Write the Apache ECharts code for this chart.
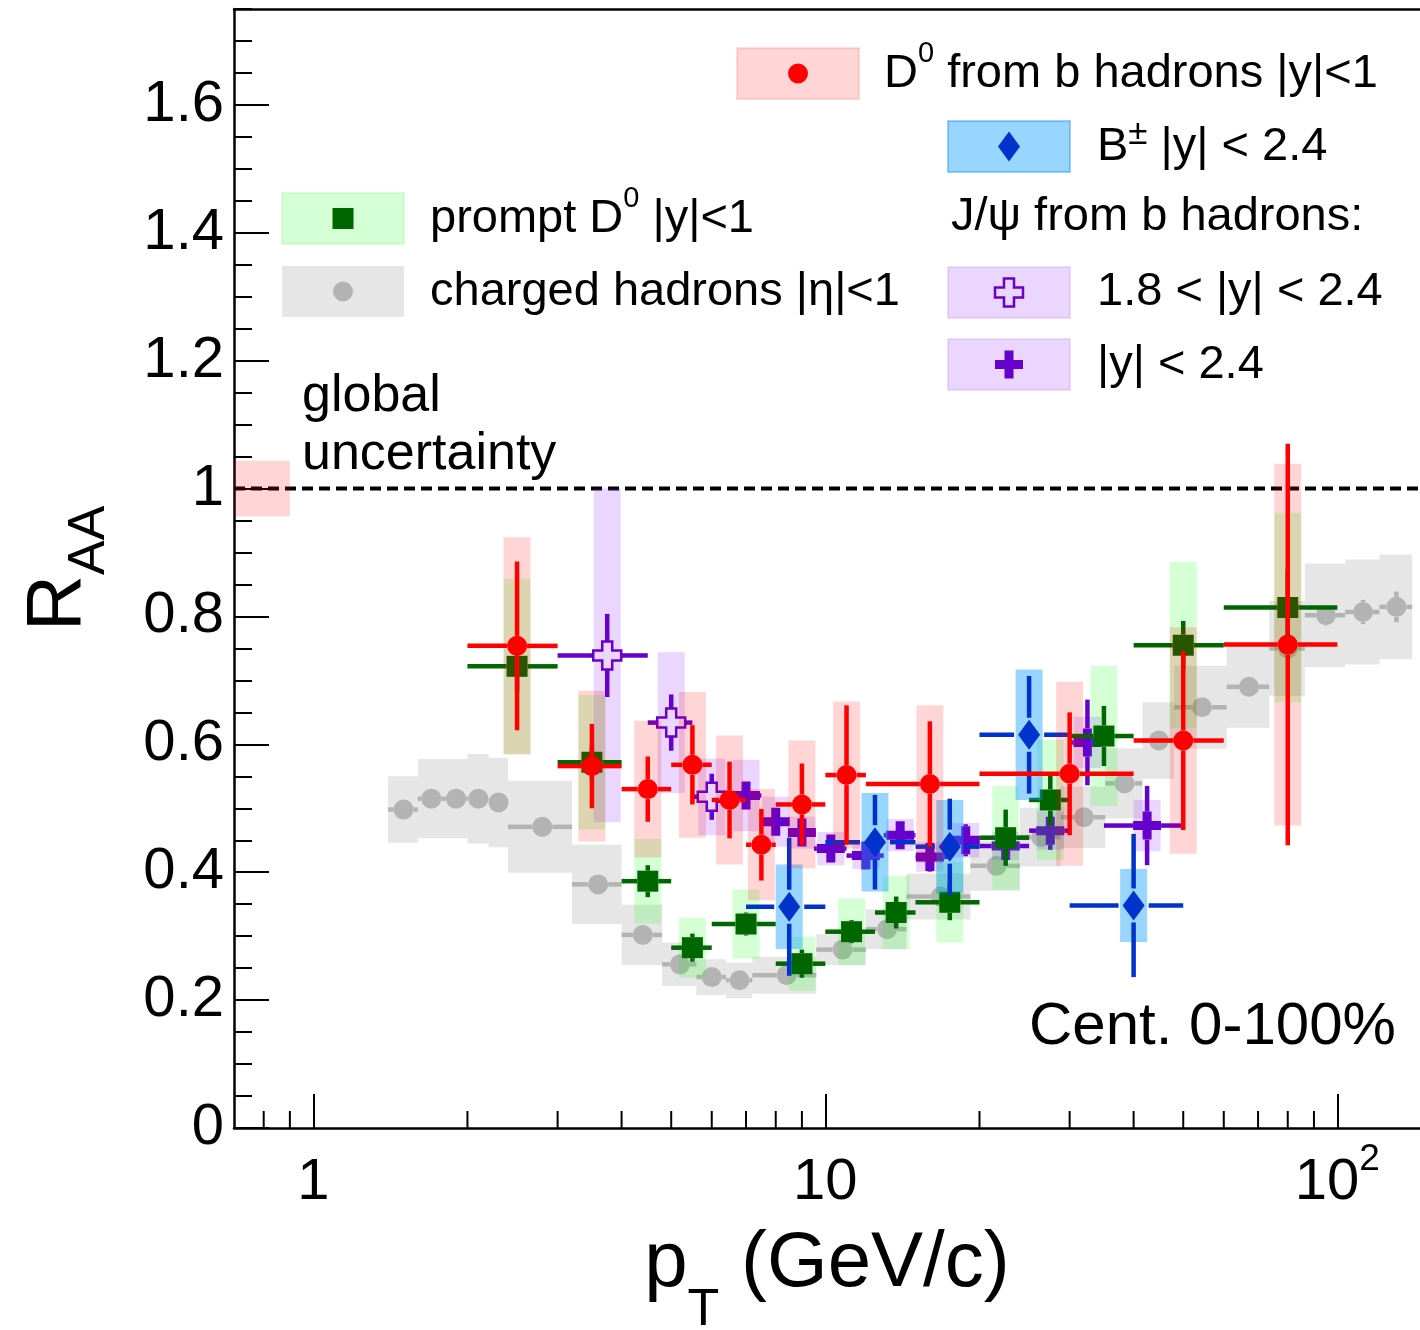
<!DOCTYPE html>
<html>
<head>
<meta charset="utf-8">
<script src="https://cdn.jsdelivr.net/npm/echarts@6/dist/echarts.min.js"></script>
<style>
html,body{margin:0;padding:0;background:#fff;}
#chart{width:1420px;height:1330px;}
</style>
</head>
<body>
<div id="chart"></div>
<script>
// ================= DATA =================
// D0 from b hadrons |y|<1
const redX    = [2.5, 3.5, 4.5, 5.5, 6.5, 7.5, 9, 11, 16, 30, 50, 80];
const redXLo  = [2, 3, 4, 5, 6, 7, 8, 10, 12, 20, 40, 60];
const redXHi  = [3, 4, 5, 6, 7, 8, 10, 12, 20, 40, 60, 100];
const redY    = [0.754, 0.566, 0.530, 0.568, 0.513, 0.443, 0.506, 0.552, 0.538, 0.554, 0.606, 0.756];
const redStat = [0.132, 0.066, 0.051, 0.062, 0.060, 0.056, 0.064, 0.109, 0.098, 0.096, 0.140, 0.314];
const redSys  = [0.170, 0.118, 0.107, 0.114, 0.101, 0.087, 0.100, 0.115, 0.123, 0.144, 0.177, 0.283];

// prompt D0 |y|<1
const greenX    = [2.5, 3.5, 4.5, 5.5, 7, 9, 11.25, 13.75, 17.5, 22.5, 27.5, 35, 50, 80];
const greenXLo  = [2, 3, 4, 5, 6, 8, 10, 12.5, 15, 20, 25, 30, 40, 60];
const greenXHi  = [3, 4, 5, 6, 8, 10, 12.5, 15, 20, 25, 30, 40, 60, 100];
const greenY    = [0.722, 0.572, 0.386, 0.282, 0.319, 0.257, 0.307, 0.337, 0.353, 0.454, 0.513, 0.613, 0.755, 0.814];
const greenStat = [0.040, 0.025, 0.025, 0.022, 0.018, 0.022, 0.018, 0.025, 0.028, 0.044, 0.040, 0.047, 0.038, 0.060];
const greenSys  = [0.137, 0.105, 0.066, 0.047, 0.054, 0.042, 0.052, 0.057, 0.063, 0.081, 0.094, 0.110, 0.130, 0.148];

// B+- |y|<2.4
const blueX    = [8.5, 12.5, 17.5, 25, 40];
const blueXLo  = [7, 10, 15, 20, 30];
const blueXHi  = [10, 15, 20, 30, 50];
const blueY    = [0.346, 0.447, 0.440, 0.615, 0.348];
const blueStat = [0.108, 0.074, 0.075, 0.092, 0.112];
const blueSys  = [0.066, 0.077, 0.073, 0.102, 0.057];

// J/psi from b hadrons, 1.8<|y|<2.4
const jpsiFwdX    = [3.75, 5.0, 6.0];
const jpsiFwdXLo  = [3, 4.5, 5.5];
const jpsiFwdXHi  = [4.5, 5.5, 6.5];
const jpsiFwdY    = [0.739, 0.634, 0.518];
const jpsiFwdStat = [0.065, 0.044, 0.036];
const jpsiFwdSys  = [0.261, 0.110, 0.060];

// J/psi from b hadrons, |y|<2.4
const jpsiX    = [7.0, 8.0, 9.0, 10.25, 12.0, 14.0, 16.0, 18.8, 22.5, 27.5, 32.5, 42.5];
const jpsiXLo  = [6.5, 7.5, 8.5, 9.5, 11, 13, 15, 17.5, 20, 25, 30, 35];
const jpsiXHi  = [7.5, 8.5, 9.5, 11, 13, 15, 17.5, 20, 25, 30, 35, 50];
const jpsiY    = [0.520, 0.479, 0.462, 0.437, 0.426, 0.458, 0.424, 0.450, 0.441, 0.465, 0.603, 0.473];
const jpsiStat = [0.021, 0.022, 0.022, 0.022, 0.021, 0.021, 0.023, 0.025, 0.020, 0.030, 0.067, 0.062];
const jpsiSys  = [0.056, 0.039, 0.025, 0.026, 0.021, 0.025, 0.023, 0.027, 0.022, 0.030, 0.040, 0.040];

// charged hadrons |eta|<1
const chX     = [1.5, 1.7, 1.9, 2.1, 2.3, 2.8, 3.6, 4.4, 5.2, 6.0, 6.8, 8.4, 10.8, 13.2, 16.8, 21.6, 26.4, 32.0, 38.4, 44.8, 54.4, 67.2, 80.0, 95.0, 112.2, 130.4];
const chEdges = [1.4, 1.6, 1.8, 2.0, 2.2, 2.4, 3.2, 4.0, 4.8, 5.6, 6.4, 7.2, 9.6, 12.0, 14.4, 19.2, 24.0, 28.8, 35.2, 41.6, 48.0, 60.8, 73.6, 86.4, 103.6, 120.8, 140.0];
const chY     = [0.498, 0.515, 0.515, 0.515, 0.509, 0.471, 0.381, 0.302, 0.256, 0.236, 0.231, 0.239, 0.279, 0.311, 0.362, 0.410, 0.455, 0.486, 0.539, 0.606, 0.658, 0.690, 0.750, 0.802, 0.807, 0.815];
const chStat  = [0.004, 0.004, 0.004, 0.004, 0.004, 0.004, 0.004, 0.004, 0.004, 0.004, 0.004, 0.004, 0.004, 0.005, 0.005, 0.006, 0.006, 0.007, 0.008, 0.008, 0.009, 0.010, 0.014, 0.016, 0.019, 0.024];
const chSys   = [0.052, 0.062, 0.062, 0.070, 0.070, 0.072, 0.062, 0.047, 0.034, 0.028, 0.028, 0.029, 0.024, 0.031, 0.036, 0.039, 0.046, 0.048, 0.055, 0.060, 0.065, 0.064, 0.074, 0.081, 0.082, 0.082];

// global uncertainty box
const globalXRange = [0.7, 0.9];
const globalY = 1.0;
const globalErr = 0.0437;

// reference line R_AA = 1
const refLineY = 1.0;

// axis ticks / labels
const xMinorTicks = [0.8, 0.9, 2, 3, 4, 5, 6, 7, 8, 9, 20, 30, 40, 50, 60, 70, 80, 90];
const yTickStep = 0.2, yMinorStep = 0.05;
const xMin = 0.7, xMax = 145, yMin = 0, yMax = 1.75;

// ================= STYLE =================
const FONT = '"Liberation Sans", Arial, Helvetica, sans-serif';
const C_RED = '#ff0000', C_GREEN = '#006600', C_BLUE = '#0033cc', C_PURPLE = '#6600cc', C_GRAY = '#b3b3b3';
const F_RED = 'rgba(255,0,0,0.165)', F_GREEN = 'rgba(0,255,0,0.165)', F_BLUE = 'rgba(0,153,255,0.4)',
      F_PURPLE = 'rgba(153,51,255,0.2)', F_GRAY = 'rgba(128,128,128,0.2)';
const BOX_HALF = 13.5;
const BAR_W = 4.5;

function rows(x, lo, hi, y, st, sy) { return x.map((v, i) => [v, y[i], lo[i], hi[i], st[i], sy[i]]); }

function markerShape(type, cx, cy, color) {
  if (type === 'circle') return {type: 'circle', shape: {cx: cx, cy: cy, r: 10}, style: {fill: color}};
  if (type === 'square') return {type: 'rect', shape: {x: cx - 10.5, y: cy - 10.5, width: 21, height: 21}, style: {fill: color}};
  if (type === 'diamond') return {type: 'polygon', shape: {points: [[cx, cy - 15], [cx + 11, cy], [cx, cy + 15], [cx - 11, cy]]}, style: {fill: color}};
  const a = type === 'cross' ? 4.5 : 5, L = 14;
  const pts = [[cx - a, cy - L], [cx + a, cy - L], [cx + a, cy - a], [cx + L, cy - a], [cx + L, cy + a], [cx + a, cy + a],
               [cx + a, cy + L], [cx - a, cy + L], [cx - a, cy + a], [cx - L, cy + a], [cx - L, cy - a], [cx - a, cy - a]];
  if (type === 'cross') return {type: 'polygon', shape: {points: pts}, style: {fill: color}};
  return {type: 'polygon', shape: {points: pts}, style: {fill: 'none', stroke: color, lineWidth: 2.5}};
}

function boxSeries(name, data, fill, binBox) {
  return {
    type: 'custom', name: name, data: data, encode: {x: 0, y: 1}, silent: true,
    renderItem: function (params, api) {
      const x = api.value(0), y = api.value(1), xl = api.value(2), xh = api.value(3), sy = api.value(5);
      const c = api.coord([x, y]);
      let x0, x1;
      if (binBox) { x0 = api.coord([xl, y])[0]; x1 = api.coord([xh, y])[0]; }
      else { x0 = c[0] - BOX_HALF; x1 = c[0] + BOX_HALF; }
      const yt = api.coord([x, y + sy])[1], yb = api.coord([x, y - sy])[1];
      return {type: 'rect', shape: {x: x0, y: yt, width: x1 - x0, height: yb - yt}, style: {fill: fill}};
    }
  };
}

function pointSeries(name, data, color, marker, gapX, gapY) {
  return {
    type: 'custom', name: name, data: data, encode: {x: 0, y: 1}, silent: true,
    renderItem: function (params, api) {
      const x = api.value(0), y = api.value(1), xl = api.value(2), xh = api.value(3), st = api.value(4);
      const c = api.coord([x, y]);
      const xL = api.coord([xl, y])[0], xR = api.coord([xh, y])[0];
      const yT = api.coord([x, y + st])[1], yB = api.coord([x, y - st])[1];
      const segs = [];
      if (c[0] - xL > gapX) segs.push([xL, c[1], c[0] - gapX, c[1]]);
      if (xR - c[0] > gapX) segs.push([c[0] + gapX, c[1], xR, c[1]]);
      if (c[1] - yT > gapY) segs.push([c[0], yT, c[0], c[1] - gapY]);
      if (yB - c[1] > gapY) segs.push([c[0], c[1] + gapY, c[0], yB]);
      const ch = segs.map(s => ({type: 'line', shape: {x1: s[0], y1: s[1], x2: s[2], y2: s[3]}, style: {stroke: color, lineWidth: BAR_W}}));
      ch.push(markerShape(marker, c[0], c[1], color));
      return {type: 'group', children: ch};
    }
  };
}

const redData = rows(redX, redXLo, redXHi, redY, redStat, redSys);
const greenData = rows(greenX, greenXLo, greenXHi, greenY, greenStat, greenSys);
const blueData = rows(blueX, blueXLo, blueXHi, blueY, blueStat, blueSys);
const jpsiFwdData = rows(jpsiFwdX, jpsiFwdXLo, jpsiFwdXHi, jpsiFwdY, jpsiFwdStat, jpsiFwdSys);
const jpsiData = rows(jpsiX, jpsiXLo, jpsiXHi, jpsiY, jpsiStat, jpsiSys);
const chData = rows(chX, chEdges.slice(0, -1), chEdges.slice(1), chY, chStat, chSys);
const globalData = [[Math.sqrt(globalXRange[0] * globalXRange[1]), globalY, globalXRange[0], globalXRange[1], 0, globalErr]];

// ================= LEGEND (graphic) =================
const LBW = 122, LBH = 51;
function legendEntry(bx, by, fill, stroke, marker, color) {
  return [
    {type: 'rect', shape: {x: bx, y: by, width: LBW, height: LBH}, style: {fill: fill, stroke: stroke, lineWidth: 2}},
    markerShape(marker, bx + LBW / 2, by + LBH / 2, color)
  ];
}
const legendText = (text, x, y) => ({
  type: 'text', z: 100,
  style: {
    text: text, x: x, y: y, fill: '#000', fontSize: 47, fontFamily: FONT, align: 'left', verticalAlign: 'middle',
    lineHeight: 50,
    rich: {
      sup: {fontSize: 29, fontFamily: FONT, lineHeight: 10, height: 10, verticalAlign: 'top', fill: '#000'},
      pm: {fontSize: 35, fontFamily: FONT, lineHeight: 24, height: 24, verticalAlign: 'top', fill: '#000'}
    }
  }
});

const graphics = [].concat(
  legendEntry(737, 48, F_RED, 'rgba(255,0,0,0.12)', 'circle', C_RED),
  legendEntry(948, 121, F_BLUE, 'rgba(0,120,255,0.35)', 'diamond', C_BLUE),
  legendEntry(282, 193, F_GREEN, 'rgba(0,255,0,0.12)', 'square', C_GREEN),
  legendEntry(282, 266, F_GRAY, 'rgba(128,128,128,0.0)', 'circle', C_GRAY),
  legendEntry(948, 267, F_PURPLE, 'rgba(153,51,255,0.15)', 'opencross', C_PURPLE),
  legendEntry(948, 339, F_PURPLE, 'rgba(153,51,255,0.15)', 'cross', C_PURPLE),
  [
    legendText('D{sup|0} from b hadrons |y|<1', 884, 74),
    legendText('B{pm|±} |y| < 2.4', 1097, 147),
    legendText('J/ψ from b hadrons:', 951, 217),
    legendText('1.8 < |y| < 2.4', 1097, 292),
    legendText('|y| < 2.4', 1097, 365),
    legendText('prompt D{sup|0} |y|<1', 430, 219),
    legendText('charged hadrons |η|<1', 430, 292),
    {type: 'text', style: {text: 'global', x: 302, y: 397, fill: '#000', fontSize: 52, fontFamily: FONT, align: 'left', verticalAlign: 'middle'}},
    {type: 'text', style: {text: 'uncertainty', x: 302, y: 455, fill: '#000', fontSize: 52, fontFamily: FONT, align: 'left', verticalAlign: 'middle'}},
    {type: 'text', style: {text: 'Cent. 0-100%', x: 1029, y: 1027, fill: '#000', fontSize: 60, fontFamily: FONT, align: 'left', verticalAlign: 'middle'}}
  ]
);

// ================= CHART =================
const chart = echarts.init(document.getElementById('chart'), null, {renderer: 'canvas'});
const axisLineStyle = {color: '#000', width: 2.5};
const option = {
  backgroundColor: '#fff',
  animation: false,
  grid: {left: 234, top: 9, right: 0, bottom: 202, containLabel: false, outerBoundsMode: 'none'},
  xAxis: [
    {
      type: 'log', logBase: 10, min: xMin, max: xMax, position: 'bottom',
      axisLine: {show: true, onZero: false, lineStyle: axisLineStyle},
      axisTick: {show: true, inside: true, length: 34, lineStyle: {color: '#000', width: 2}},
      splitLine: {show: false},
      axisLabel: {
        show: true, showMinLabel: false, showMaxLabel: false, margin: 25, color: '#000',
        fontSize: 58, fontFamily: FONT, lineHeight: 60,
        formatter: function (v) {
          const e = Math.round(Math.log10(v));
          if (Math.abs(Math.log10(v) - e) > 1e-6) return '';
          if (e === 2) return '10{sup|2}';
          return String(Math.pow(10, e));
        },
        rich: {sup: {fontSize: 37, fontFamily: FONT, lineHeight: 14, height: 14, verticalAlign: 'top', color: '#000'}}
      },
      name: '{m|p}{t|T}{m| (GeV/c)}',
      nameLocation: 'middle', nameGap: 81, nameMoveOverlap: false,
      nameTextStyle: {
        color: '#000',
        rich: {
          m: {fontSize: 78, fontFamily: FONT, lineHeight: 110, verticalAlign: 'middle', color: '#000'},
          t: {fontSize: 52, fontFamily: FONT, lineHeight: 16, height: 16, verticalAlign: 'bottom', color: '#000'}
        }
      }
    },
    {
      type: 'log', logBase: 10, min: xMin, max: xMax, position: 'top',
      axisLine: {show: true, onZero: false, lineStyle: axisLineStyle},
      axisTick: {show: false}, axisLabel: {show: false}, splitLine: {show: false}
    }
  ],
  yAxis: [
    {
      type: 'value', min: yMin, max: yMax, interval: yTickStep, position: 'left',
      axisLine: {show: true, onZero: false, lineStyle: axisLineStyle},
      axisTick: {show: true, inside: true, length: 35, lineStyle: {color: '#000', width: 2}},
      splitLine: {show: false},
      axisLabel: {show: true, showMaxLabel: false, margin: 10, color: '#000', fontSize: 58, fontFamily: FONT},
      name: '{r|R}{s|AA}',
      nameLocation: 'middle', nameRotate: 90, nameGap: 136, nameMoveOverlap: false,
      nameTextStyle: {
        color: '#000',
        rich: {
          r: {fontSize: 78, fontFamily: FONT, lineHeight: 80, verticalAlign: 'middle', color: '#000'},
          s: {fontSize: 52, fontFamily: FONT, lineHeight: 16, height: 16, verticalAlign: 'bottom', color: '#000'}
        }
      }
    },
    {
      type: 'value', min: yMin, max: yMax, interval: yMinorStep, position: 'left',
      axisLine: {show: false},
      axisTick: {show: true, inside: true, length: 18, lineStyle: {color: '#000', width: 2}},
      axisLabel: {show: false}, splitLine: {show: false}
    }
  ],
  graphic: graphics,
  series: [
    {
      type: 'custom', name: 'R_AA = 1', silent: true,
      data: [[xMin, refLineY]], encode: {x: 0, y: 1},
      renderItem: function (params, api) {
        const p0 = api.coord([xMin, api.value(1)]), p1 = api.coord([xMax, api.value(1)]);
        return {type: 'line', shape: {x1: p0[0], y1: p0[1], x2: p1[0], y2: p1[1]},
                style: {stroke: '#000', lineWidth: 4, lineDash: [11, 6]}};
      }
    },
    boxSeries('global uncertainty', globalData, F_RED, true),
    boxSeries('charged hadrons sys', chData, F_GRAY, true),
    pointSeries('charged hadrons |η|<1', chData, C_GRAY, 'circle', 10, 10),
    boxSeries('J/ψ 1.8<|y|<2.4 sys', jpsiFwdData, F_PURPLE, false),
    pointSeries('J/ψ 1.8<|y|<2.4', jpsiFwdData, C_PURPLE, 'opencross', 14, 14),
    boxSeries('J/ψ |y|<2.4 sys', jpsiData, F_PURPLE, false),
    pointSeries('J/ψ |y|<2.4', jpsiData, C_PURPLE, 'cross', 14, 14),
    boxSeries('prompt D0 sys', greenData, F_GREEN, false),
    pointSeries('prompt D0 |y|<1', greenData, C_GREEN, 'square', 10.5, 10.5),
    boxSeries('B± sys', blueData, F_BLUE, false),
    pointSeries('B± |y|<2.4', blueData, C_BLUE, 'diamond', 15, 17),
    boxSeries('D0 from b sys', redData, F_RED, false),
    pointSeries('D0 from b hadrons |y|<1', redData, C_RED, 'circle', 10, 10),
    {
      type: 'custom', name: 'x minor ticks', silent: true, z: 10,
      data: xMinorTicks.map(v => [v, 0]), encode: {x: 0, y: 1},
      renderItem: function (params, api) {
        const c = api.coord([api.value(0), 0]);
        return {type: 'line', shape: {x1: c[0], y1: c[1], x2: c[0], y2: c[1] - 17}, style: {stroke: '#000', lineWidth: 2}};
      }
    }
  ]
};
chart.setOption(option);
</script>
</body>
</html>
